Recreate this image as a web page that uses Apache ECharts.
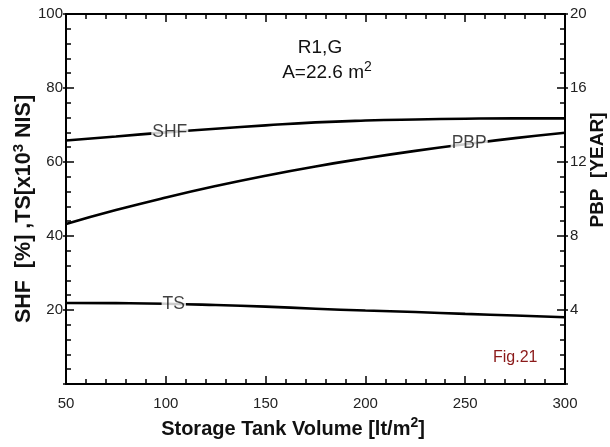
<!DOCTYPE html>
<html>
<head>
<meta charset="utf-8">
<style>
  html, body { margin: 0; padding: 0; background: #fff; }
  #chart { width: 610px; height: 447px; }
</style>
<script src="https://cdn.jsdelivr.net/npm/echarts@6/dist/echarts.min.js"></script>
</head>
<body>
<div id="chart"></div>
<script>
// storage tank volume [lt/m2]
const volumes = [50, 75, 100, 125, 150, 175, 200, 225, 250, 275, 300];
// SHF [%] and TS [x10^3 NIS] on the left axis
const shf = [65.8, 66.9, 68.0, 69.0, 69.9, 70.7, 71.2, 71.5, 71.7, 71.8, 71.8];
const ts = [21.9, 21.85, 21.7, 21.35, 20.9, 20.35, 19.85, 19.45, 18.95, 18.5, 18.05];
// PBP [year] on the right axis
const pbp = [8.65, 9.4, 10.08, 10.7, 11.26, 11.76, 12.2, 12.6, 12.96, 13.29, 13.58];

// inline curve labels: [x, y]
const shfLabelAt = [102, 68.1];
const tsLabelAt = [104, 21.65];
const pbpLabelAt = [252, 13.0];

const FONT = "Liberation Sans";

const chart = echarts.init(document.getElementById("chart"));

const pairs = (ys) => volumes.map((x, i) => [x, ys[i]]);

function curve(name, ys, yIdx) {
  return {
    name,
    type: "line",
    yAxisIndex: yIdx,
    data: pairs(ys),
    smooth: true,
    showSymbol: false,
    silent: true,
    z: 2,
    lineStyle: { color: "#000", width: 2.6 },
  };
}

function curveLabel(text, at, yIdx) {
  return {
    type: "scatter",
    yAxisIndex: yIdx,
    data: [at],
    symbolSize: 0,
    silent: true,
    z: 10,
    label: {
      show: true,
      position: "inside",
      formatter: text,
      color: "#111",
      fontFamily: FONT,
      fontSize: 17.5,
      backgroundColor: "#fff",
      padding: [0, 1],
    },
  };
}

const hideZero = (v) => (v === 0 ? "" : String(v));

function yAxisMain(pos, max, step) {
  return {
    type: "value",
    position: pos,
    min: 0,
    max: max,
    interval: step,
    axisLine: { show: true, lineStyle: { color: "#000", width: 2 } },
    axisTick: { show: true, inside: true, length: 8, lineStyle: { color: "#000", width: 1.5 } },
    minorTick: { show: true, splitNumber: 5, length: 5, lineStyle: { color: "#000", width: 1.5 } },
    axisLabel: {
      show: true,
      color: "#222",
      fontFamily: FONT,
      fontSize: 15,
      margin: pos === "left" ? 3 : 5,
      formatter: hideZero,
    },
    splitLine: { show: false },
  };
}

// short outward stubs at the major y ticks
function yAxisOuterTicks(pos, max, step) {
  return {
    type: "value",
    position: pos,
    min: 0,
    max: max,
    interval: step,
    axisLine: { show: false },
    axisTick: { show: true, inside: false, length: 3, lineStyle: { color: "#000", width: 1.5 } },
    axisLabel: { show: false },
    splitLine: { show: false },
  };
}

function xAxisDef(pos, labels) {
  return {
    type: "value",
    position: pos,
    min: 50,
    max: 300,
    interval: 50,
    axisLine: { show: true, onZero: false, lineStyle: { color: "#000", width: 2 } },
    axisTick: { show: true, inside: true, length: 8, lineStyle: { color: "#000", width: 1.5 } },
    minorTick: { show: true, splitNumber: 5, length: 5, lineStyle: { color: "#000", width: 1.5 } },
    axisLabel: { show: labels, color: "#222", fontFamily: FONT, fontSize: 15, margin: 12 },
    splitLine: { show: false },
  };
}

const titleRich = (size) => ({
  a: { fontFamily: FONT, fontSize: size, fontWeight: "bold", fill: "#111" },
  s: { fontFamily: FONT, fontSize: Math.round(size * 0.7), fontWeight: "bold", fill: "#111", padding: [0, 0, 11, 0] },
});

chart.setOption({
  backgroundColor: "#fff",
  animation: false,
  grid: { left: 66, right: 45, top: 14, bottom: 63 },
  xAxis: [xAxisDef("bottom", true), xAxisDef("top", false)],
  yAxis: [
    yAxisMain("left", 100, 20),
    yAxisMain("right", 20, 4),
    yAxisOuterTicks("left", 100, 20),
    yAxisOuterTicks("right", 20, 4),
  ],
  series: [
    curve("SHF", shf, 0),
    curve("TS", ts, 0),
    curve("PBP", pbp, 1),
    curveLabel("SHF", shfLabelAt, 0),
    curveLabel("TS", tsLabelAt, 0),
    curveLabel("PBP", pbpLabelAt, 1),
  ],
  graphic: [
    {
      type: "text",
      x: 293,
      y: 429,
      style: {
        text: "{a|Storage Tank Volume [lt/m}{s|2}{a|]}",
        align: "center",
        verticalAlign: "middle",
        rich: titleRich(20),
      },
    },
    {
      type: "text",
      x: 24,
      y: 209,
      rotation: Math.PI / 2,
      style: {
        text: "{a|SHF  [%] ,TS[x10}{s|3}{a| NIS]}",
        align: "center",
        verticalAlign: "middle",
        rich: titleRich(21.5),
      },
    },
    {
      type: "text",
      x: 598,
      y: 170,
      rotation: Math.PI / 2,
      style: {
        text: "PBP  [YEAR]",
        align: "center",
        verticalAlign: "middle",
        fontFamily: FONT,
        fontSize: 19,
        fontWeight: "bold",
        fill: "#111",
      },
    },
    {
      type: "text",
      x: 320,
      y: 48,
      style: {
        text: "R1,G",
        align: "center",
        verticalAlign: "middle",
        fontFamily: FONT,
        fontSize: 19,
        fill: "#111",
      },
    },
    {
      type: "text",
      x: 327,
      y: 73,
      style: {
        text: "{a|A=22.6 m}{s|2}",
        align: "center",
        verticalAlign: "middle",
        rich: {
          a: { fontFamily: FONT, fontSize: 19, fill: "#111" },
          s: { fontFamily: FONT, fontSize: 14, fill: "#111", padding: [0, 0, 11, 0] },
        },
      },
    },
    {
      type: "text",
      x: 493,
      y: 358,
      style: {
        text: "Fig.21",
        align: "left",
        verticalAlign: "middle",
        fontFamily: FONT,
        fontSize: 16,
        fill: "#8b1a1a",
      },
    },
  ],
});
</script>
</body>
</html>
